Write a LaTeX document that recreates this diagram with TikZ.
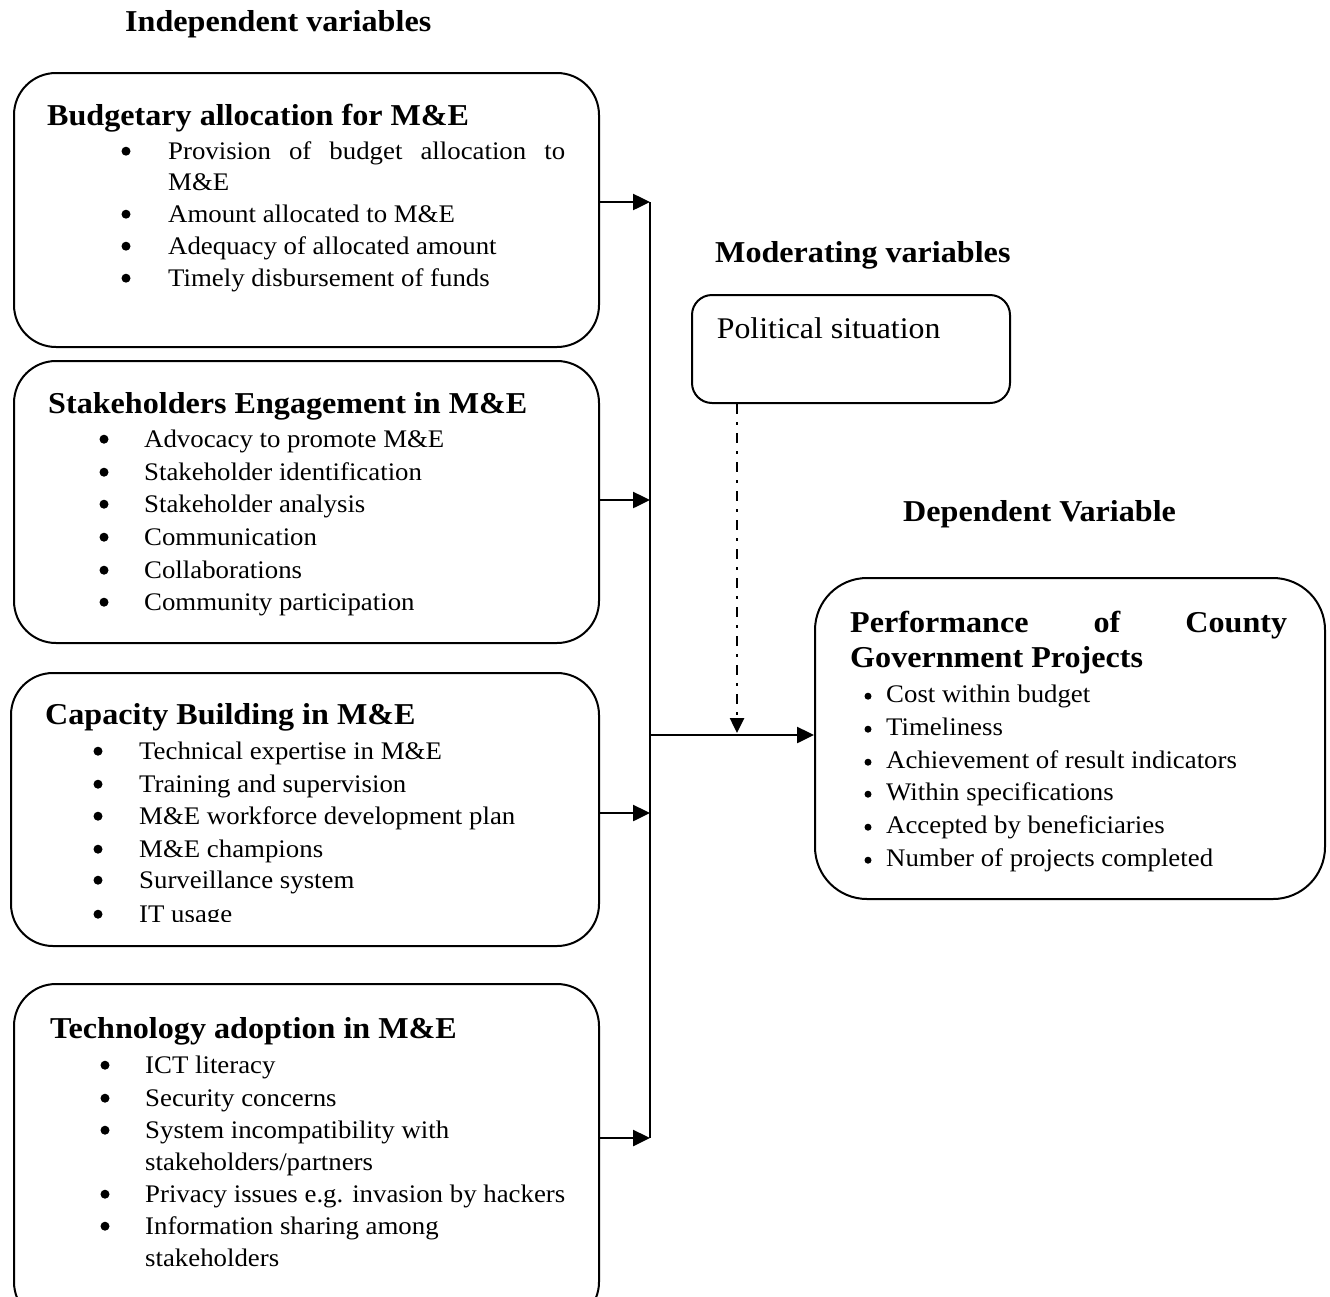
\documentclass[tikz,border=0pt]{standalone}
\usepackage{fontspec}
\setmainfont{Liberation Serif}[FakeStretch=1.06]
\usetikzlibrary{arrows.meta}
\newcommand\bodyf{\fontsize{25.3}{30}\selectfont}
\newcommand\headf{\fontsize{30.3}{34}\selectfont\bfseries}
\newcommand\polf{\fontsize{30}{34}\selectfont}
\begin{document}
\begin{tikzpicture}[x=1pt,y=-1pt,
  box/.style={draw, line width=2pt, inner sep=0pt, anchor=north west},
  txt/.style={inner sep=0pt, anchor=base west, font=\bodyf},
  head/.style={inner sep=0pt, anchor=base west, font=\headf},
  bul/.style={circle, fill, draw=none, inner sep=0pt, minimum size=9pt, yshift=7.8pt},
  sbul/.style={circle, fill, draw=none, inner sep=0pt, minimum size=7pt, yshift=5.8pt},
  arr/.style={line width=2.5pt, -{Triangle[length=17pt,width=16pt]}},
  dasharr/.style={line width=2.5pt, dash pattern=on 10pt off 8pt on 3pt off 8pt, -{Triangle[length=15pt,width=14pt]}}]
\useasboundingbox (0,0) rectangle (1330,1296);
\clip (0,0) rectangle (1330,1296);
% boxes
\node[box, rounded corners=42pt, minimum width=585pt, minimum height=274pt] (b1) at (13,72) {};
\node[box, rounded corners=42pt, minimum width=585pt, minimum height=282pt] (b2) at (13,360) {};
\node[box, rounded corners=42pt, minimum width=588pt, minimum height=273pt] (b3) at (10,672) {};
\node[box, rounded corners=42pt, minimum width=585pt, minimum height=340pt] (b4) at (13,983) {};
\node[box, rounded corners=20pt, minimum width=318pt, minimum height=108pt] (pol) at (691,294) {};
\node[box, rounded corners=52pt, minimum width=510pt, minimum height=321pt] (dep) at (814,577) {};
% titles
\node[head] (tind) at (125,31.7) {Independent variables};
\node[head] (tmod) at (715,262) {Moderating variables};
\node[head] (tdep) at (903,521.5) {Dependent Variable};
% box 1
\node[head] (h1) at (47,125.5) {Budgetary allocation for M\&E};
\foreach \y [count=\i] in {159,222,254,286} \node[bul] (b1b\i) at (126,\y) {};
\node[txt] (b1t1) at (168,159) {\makebox[397pt][s]{Provision of budget allocation to}};
\node[txt] (b1t1b) at (168,190) {M\&E};
\node[txt] (b1t2) at (168,222) {Amount allocated to M\&E};
\node[txt] (b1t3) at (168,254) {Adequacy of allocated amount};
\node[txt] (b1t4) at (168,286) {Timely disbursement of funds};
% box 2
\node[head] (h2) at (48,413.5) {Stakeholders Engagement in M\&E};
\foreach \y [count=\i] in {447,480,512,545,578,610} \node[bul] (b2b\i) at (104,\y) {};
\node[txt] (b2t1) at (144,447) {Advocacy to promote M\&E};
\node[txt] (b2t2) at (144,480) {Stakeholder identification};
\node[txt] (b2t3) at (144,512) {Stakeholder analysis};
\node[txt] (b2t4) at (144,545) {Communication};
\node[txt] (b2t5) at (144,578) {Collaborations};
\node[txt] (b2t6) at (144,610) {Community participation};
% box 3
\node[head] (h3) at (45,724.5) {Capacity Building in M\&E};
\foreach \y [count=\i] in {759,792,824,857,888,922} \node[bul] (b3b\i) at (98,\y) {};
\node[txt] (b3t1) at (139,759) {Technical expertise in M\&E};
\node[txt] (b3t2) at (139,792) {Training and supervision};
\node[txt] (b3t3) at (139,824) {M\&E workforce development plan};
\node[txt] (b3t4) at (139,857) {M\&E champions};
\node[txt] (b3t5) at (139,888) {Surveillance system};
\begin{scope}
\clip (0,0) rectangle (1330,921);
\node[txt] (b3t6) at (139,922) {IT usage};
\end{scope}
% box 4
\node[head] (h4) at (50,1038.5) {Technology adoption in M\&E};
\foreach \y [count=\i] in {1073,1106,1138,1202,1234} \node[bul] (b4b\i) at (105,\y) {};
\node[txt] (b4t1) at (145,1073) {ICT literacy};
\node[txt] (b4t2) at (145,1106) {Security concerns};
\node[txt] (b4t3) at (145,1138) {System incompatibility with};
\node[txt] (b4t3b) at (145,1170) {stakeholders/partners};
\node[txt] (b4t4) at (145,1202) {Privacy issues e.g. invasion by hackers};
\node[txt] (b4t5) at (145,1234) {Information sharing among};
\node[txt] (b4t5b) at (145,1266) {stakeholders};
% political
\node[txt, font=\polf] (polt) at (716.7,338) {Political situation};
% dependent
\node[head] (hd1) at (850,632.5) {\makebox[437pt][s]{Performance of County}};
\node[head] (hd2) at (850,667.5) {Government Projects};
\foreach \y [count=\i] in {702,735,768,800,833,866} \node[sbul] (dpb\i) at (868,\y) {};
\node[txt] (dp1) at (886,702) {Cost within budget};
\node[txt] (dp2) at (886,735) {Timeliness};
\node[txt] (dp3) at (886,768) {Achievement of result indicators};
\node[txt] (dp4) at (886,800) {Within specifications};
\node[txt] (dp5) at (886,833) {Accepted by beneficiaries};
\node[txt] (dp6) at (886,866) {Number of projects completed};
% connectors
\coordinate (j1) at (650,202);
\coordinate (j2) at (650,500);
\coordinate (j3) at (650,813);
\coordinate (j4) at (650,1138);
\coordinate (m) at (651,735);
\coordinate (d) at (737,733);
\draw[line width=2.5pt] (j1) -- (j4);
\draw[arr] (b1.east |- j1) -- (j1);
\draw[arr] (b2.east |- j2) -- (j2);
\draw[arr] (b3.east |- j3) -- (j3);
\draw[arr] (b4.east |- j4) -- (j4);
\draw[arr] (m) -- (dep.west |- m);
\draw[dasharr] (pol.south -| d) -- (d);
\end{tikzpicture}
\end{document}
